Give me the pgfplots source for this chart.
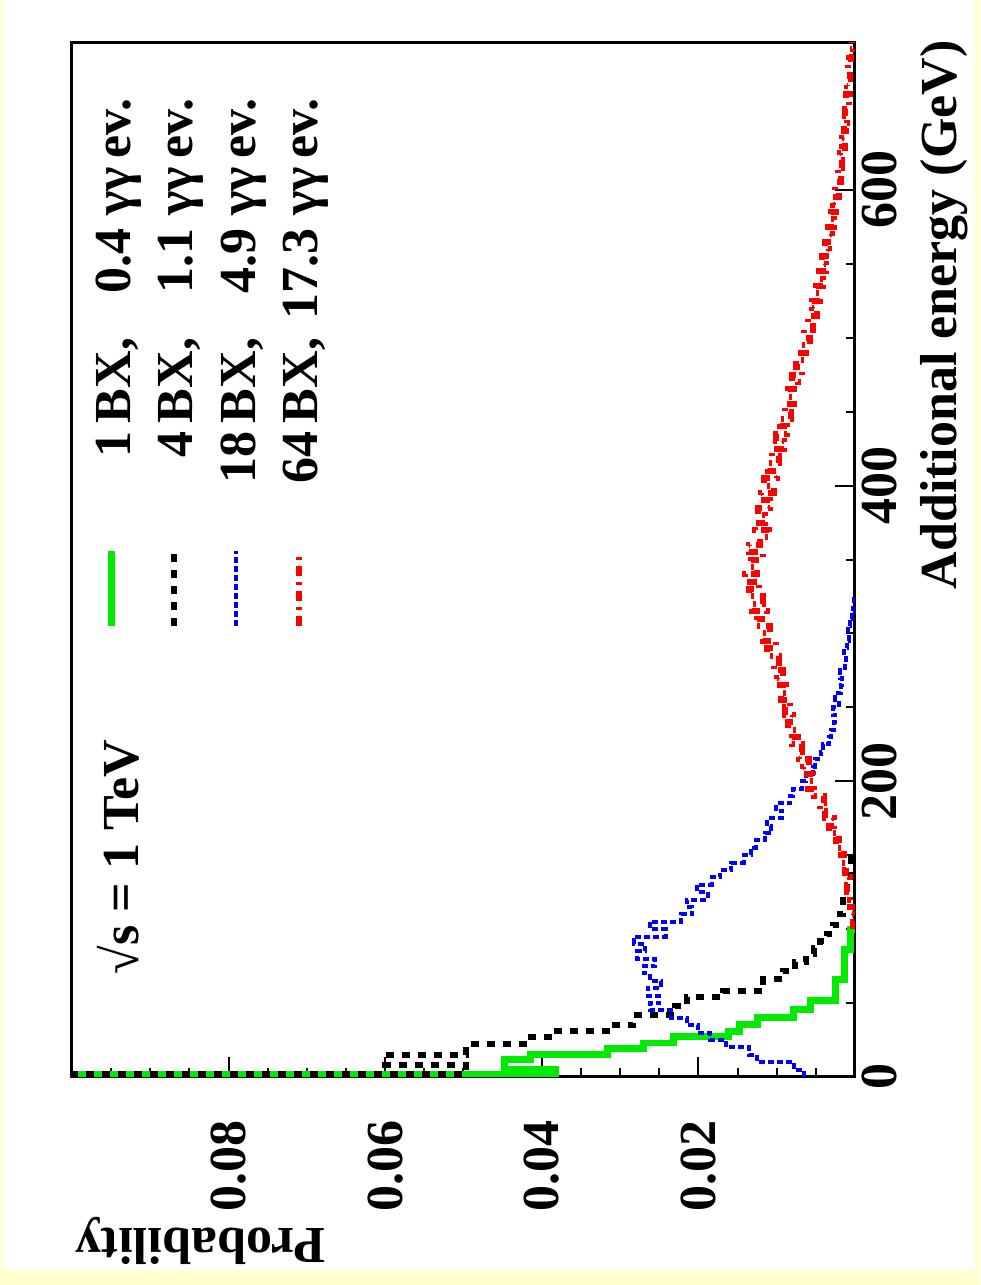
\documentclass[border=0pt]{standalone}
\usepackage{pgfplots}
\pgfplotsset{compat=1.18}
\usepackage{pgfplotstable}
\usepackage{fontspec}
\setmainfont{Liberation Serif}

\definecolor{bgyellow}{RGB}{255,255,208}
\definecolor{hgreen}{RGB}{0,235,0}
\definecolor{hblue}{RGB}{0,0,255}
\definecolor{hred}{RGB}{255,0,0}

% histograms: left bin edge (GeV), probability
\pgfplotstableread{
E P
0 0.2
2 0.0382
5 0.0448
12 0.0414
15 0.0316
19.5 0.0270
23 0.0232
27.5 0.0162
31 0.0147
35.5 0.0125
40 0.0079
45.5 0.0057
52 0.0025
66 0.0013
86 0.0006
100 0
}\greenbx

\pgfplotstableread{
E P
0 0.2
2 0.0497
8 0.0600
15 0.0497
22 0.0414
27 0.0385
31 0.0312
35 0.0283
42 0.0230
48 0.0215
54 0.0168
58 0.0117
66 0.0092
72 0.0076
78 0.0062
83 0.0053
87 0.0045
92 0.0036
97 0.0028
103 0.0019
110 0.0015
120 0.0010
135 0.0005
150 0
}\blackbx

\pgfplotstableread{
E P
0 0.0065
5 0.0078
10 0.0125
15 0.0135
20 0.0165
25 0.0185
30 0.0200
35 0.0215
40 0.0235
45 0.0262
50 0.0250
55 0.0265
60 0.0248
65 0.0262
70 0.0270
75 0.0255
80 0.0278
85 0.0268
90 0.0282
95 0.0242
100 0.0262
105 0.0222
110 0.0208
115 0.0215
120 0.0188
125 0.0202
130 0.0183
135 0.0172
140 0.0158
145 0.0142
150 0.0133
155 0.0127
160 0.0115
165 0.0107
170 0.0112
175 0.0093
180 0.0101
185 0.0083
190 0.0079
195 0.0068
200 0.0063
205 0.0054
210 0.0051
215 0.0044
220 0.0041
225 0.0033
230 0.0031
235 0.0027
240 0.0025
245 0.0028
250 0.0021
255 0.0025
260 0.0018
265 0.0016
270 0.0019
275 0.0013
280 0.0012
285 0.0014
290 0.0010
295 0.0008
300 0.0009
305 0.0006
310 0.0004
315 0.0002
320 0.0001
325 0
}\bluebx

\pgfplotstableread{
E P
100 0.0003
105 0.0001
110 0.0007
115 0.0003
120 0.0006
125 0.0010
130 0.0007
135 0.0013
140 0.0011
145 0.0018
150 0.0014
155 0.0024
160 0.0021
165 0.0033
170 0.0027
175 0.0038
180 0.0045
185 0.0039
190 0.0052
195 0.0060
200 0.0054
205 0.0066
210 0.0059
215 0.0072
220 0.0068
225 0.0080
230 0.0073
235 0.0085
240 0.0079
245 0.0090
250 0.0083
255 0.0095
260 0.0088
265 0.0099
270 0.0092
275 0.0104
280 0.0097
285 0.0112
290 0.0101
295 0.0118
300 0.0108
305 0.0125
310 0.0113
315 0.0131
320 0.0118
325 0.0136
330 0.0122
335 0.0140
340 0.0125
345 0.0133
350 0.0118
355 0.0136
360 0.0121
365 0.0110
370 0.0128
375 0.0115
380 0.0124
385 0.0108
390 0.0120
395 0.0104
400 0.0116
405 0.0100
410 0.0111
415 0.0097
420 0.0106
425 0.0091
430 0.0101
435 0.0087
440 0.0096
445 0.0082
450 0.0090
455 0.0078
460 0.0085
465 0.0073
470 0.0080
475 0.0068
480 0.0075
485 0.0063
490 0.0069
495 0.0058
500 0.0065
505 0.0054
510 0.0060
515 0.0049
520 0.0055
525 0.0045
530 0.0050
535 0.0041
540 0.0046
545 0.0037
550 0.0042
555 0.0033
560 0.0038
565 0.0030
570 0.0034
575 0.0027
580 0.0031
585 0.0024
590 0.0028
595 0.0021
600 0.0025
605 0.0018
610 0.0022
615 0.0016
620 0.0019
625 0.0013
630 0.0017
635 0.0011
640 0.0014
645 0.0010
650 0.0013
655 0.0008
660 0.0011
665 0.0007
670 0.0010
675 0.0006
680 0.0009
685 0.0005
690 0.0008
695 0.0004
700 0.0004
}\redbx

\newcommand{\bxentry}[2]{\makebox[1.0em][r]{#1}\,BX,\ \makebox[1.85em][r]{#2}\ γγ\,ev.}

\begin{document}
\bfseries
\begin{tikzpicture}[rotate=90, transform shape]
% landscape frame, 1 px = 0.5pt, 1285 x 980 px
\fill[bgyellow] (0pt,0pt) rectangle (642.5pt,490pt);
\fill[white] (7.5pt,2.5pt) rectangle (642.5pt,488.5pt);
\begin{axis}[
  at={(104pt,62.5pt)}, anchor=south west,
  scale only axis, width=517.5pt, height=391.5pt,
  xmin=0, xmax=700, ymin=0, ymax=0.1,
  xtick={0,200,400,600}, xticklabels={0,200,400,600},
  minor x tick num=3,
  ytick={0,0.02,0.04,0.06,0.08,0.1},
  yticklabels={,0.02,0.04,0.06,0.08,},
  minor y tick num=3,
  tick pos=left, tick align=inside,
  major tick length=10pt, minor tick length=4.5pt,
  every tick/.style={black, line width=1pt},
  axis line style={line width=1.5pt},
  /pgf/number format/assume math mode=true,
  tick label style={font=\fontsize{26}{30}\selectfont\bfseries},
  yticklabel style={xshift=-18pt},
  every axis x label/.style={at={(rel axis cs:1.002,-0.083)}, anchor=north east, inner sep=0pt},
  every axis y label/.style={at={(rel axis cs:-0.1816,0.996)}, anchor=north east, rotate=90, inner sep=0pt},
  label style={font=\fontsize{26}{30}\selectfont\bfseries},
  xlabel={Additional energy (GeV)},
  ylabel={Probability},
  legend cell align=left,
  legend image code/.code={\draw[#1] (0pt,1.5pt) -- (37.5pt,1.5pt);},
  legend style={draw=none, fill=none, at={(0.432,0.826)}, anchor=west,
    inner sep=0pt, row sep=12.5pt, column sep=32pt,
    font=\fontsize{26}{30}\selectfont\bfseries, nodes={inner sep=0pt}},
]
\addplot[const plot, color=hgreen, line width=3.4pt] table[x=E, y=P] {\greenbx};
\addlegendentry{\bxentry{1}{0.4}}
\addplot[const plot, color=black, line width=3pt, dash pattern=on 4pt off 4pt] table[x=E, y=P] {\blackbx};
\addlegendentry{\bxentry{4}{1.1}}
\addplot[const plot, color=hblue, line width=2pt, dash pattern=on 3pt off 1.5pt] table[x=E, y=P] {\bluebx};
\addlegendentry{\bxentry{18}{4.9}}
\addplot[const plot, color=hred, line width=3pt, dash pattern=on 5pt off 3pt on 1.5pt off 3pt] table[x=E, y=P] {\redbx};
\addlegendentry{\bxentry{64}{17.3}}
\node[anchor=west, inner sep=0pt, font=\fontsize{26}{30}\selectfont\bfseries] at (rel axis cs:0.099,0.941) {√s = 1 TeV};
\end{axis}
\end{tikzpicture}
\end{document}
